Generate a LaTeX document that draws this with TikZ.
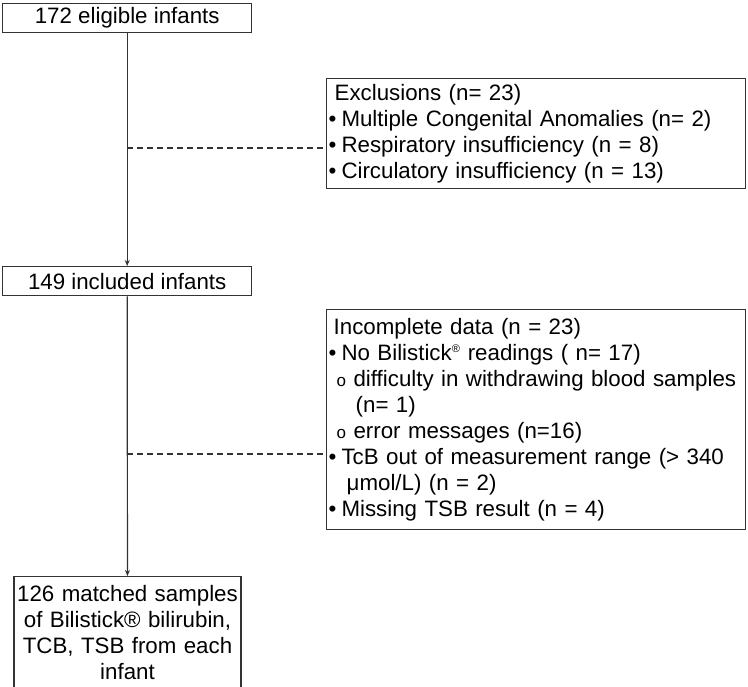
\documentclass[tikz,border=0pt]{standalone}
\usepackage{fontspec}
\setmainfont{Liberation Sans}
\usetikzlibrary{arrows.meta}
\begin{document}
\begin{tikzpicture}[x=1pt, y=-1pt, line width=1.4pt, >={Stealth[length=6pt,width=5pt]},
    box/.style={draw=black!80, text=black, inner xsep=2pt, inner ysep=0pt, font=\fontsize{22.3}{26}\selectfont},
    listbox/.style={box, anchor=north west, minimum width=419, text width=415, align=left},
    link/.style={draw=black!80, line width=1.2pt, ->},
    side/.style={draw=black!80, line width=1.2pt, dashed, dash pattern=on 6pt off 4pt}]
    \useasboundingbox (0,0) rectangle (748,687);
    \node[box, anchor=north west, minimum width=249, minimum height=29] (elig) at (2,3) {172 eligible infants};
    \node[box, anchor=north west, minimum width=249, minimum height=29] (incl) at (2,266) {149 included infants};
    \node[box, anchor=north, inner xsep=1pt, minimum width=227, minimum height=112, text width=225, align=center] (match) at (127.5,576)
        {126 matched samples\\ of Bilistick\textregistered\ bilirubin,\\ TCB, TSB from each\\ infant};
    \node[listbox, minimum height=110] (excl) at (326,78)
        {\hspace*{6pt}Exclusions (n= 23)\\
         •\hspace{5pt}Multiple Congenital Anomalies (n= 2)\\
         •\hspace{5pt}Respiratory insufficiency (n = 8)\\
         •\hspace{5pt}Circulatory insufficiency (n = 13)};
    \node[listbox, minimum height=220] (incomp) at (326,309)
        {\hspace*{5pt}Incomplete data (n = 23)\\
         •\hspace{5pt}No Bilistick\textsuperscript{\fontsize{11}{11}\selectfont ®} readings ( n= 17)\\
         \mbox{\hspace*{8pt}{\fontsize{17}{17}\selectfont o} difficulty in withdrawing blood samples}\\
         \hspace*{27pt}(n= 1)\\
         \hspace*{8pt}{\fontsize{17}{17}\selectfont o} error messages (n=16)\\
         •\hspace{5pt}TcB out of measurement range (> 340\\
         \hspace*{18pt}\symbol{"03BC}mol/L) (n = 2)\\
         •\hspace{5pt}Missing TSB result (n = 4)};
    % main flow
    \draw[link] (elig) -- (incl);
    \draw[link] (incl) -- (match);
    % exclusions branch off the main line
    \coordinate (tapA) at (127,148);
    \coordinate (tapB) at (127,454);
    \draw[side] (tapA) -- (tapA -| excl.west);
    \draw[side] (tapB) -- (tapB -| incomp.west);
\end{tikzpicture}
\end{document}
